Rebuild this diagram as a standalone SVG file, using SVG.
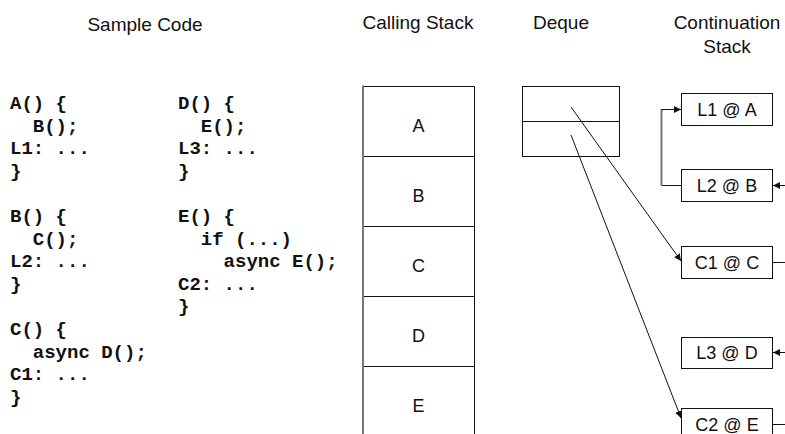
<svg xmlns="http://www.w3.org/2000/svg" width="785" height="434" viewBox="0 0 785 434">
  <defs>
    <style>
      .hdr { font-family: "Liberation Sans", Arial, sans-serif; font-size: 19px; fill: #111; text-anchor: middle; }
      .code { font-family: "Liberation Mono", "Courier New", monospace; font-size: 19px; font-weight: bold; fill: #111; white-space: pre; }
      .lbl { font-family: "Liberation Sans", Arial, sans-serif; font-size: 18px; fill: #111; text-anchor: middle; }
      .box { fill: #fff; stroke: #111; stroke-width: 1; }
      .ln { fill: none; stroke: #111; stroke-width: 1; }
      .gray { fill: none; stroke: #777; stroke-width: 2; }
    </style>
    <marker id="arr" viewBox="0 0 10 10" refX="10" refY="5" markerWidth="7" markerHeight="7" markerUnits="userSpaceOnUse" orient="auto">
      <path d="M0,0 L10,5 L0,10 z" fill="#111"/>
    </marker>
  </defs>

  <!-- column headers -->
  <g id="headers">
    <text class="hdr" x="145" y="31">Sample Code</text>
    <text class="hdr" x="418" y="29">Calling Stack</text>
    <text class="hdr" x="561" y="29">Deque</text>
    <text class="hdr" x="727" y="29">Continuation</text>
    <text class="hdr" x="727" y="53">Stack</text>
  </g>

  <!-- sample code, left column -->
  <g id="code-left" class="code" xml:space="preserve">
    <text xml:space="preserve" x="10" y="109">A() {</text>
    <text xml:space="preserve" x="10" y="131.6">  B();</text>
    <text xml:space="preserve" x="10" y="154.2">L1: ...</text>
    <text xml:space="preserve" x="10" y="176.8">}</text>
    <text xml:space="preserve" x="10" y="222">B() {</text>
    <text xml:space="preserve" x="10" y="244.6">  C();</text>
    <text xml:space="preserve" x="10" y="267.2">L2: ...</text>
    <text xml:space="preserve" x="10" y="289.8">}</text>
    <text xml:space="preserve" x="10" y="335">C() {</text>
    <text xml:space="preserve" x="10" y="357.6">  async D();</text>
    <text xml:space="preserve" x="10" y="380.2">C1: ...</text>
    <text xml:space="preserve" x="10" y="402.8">}</text>
  </g>

  <!-- sample code, right column -->
  <g id="code-right" class="code" xml:space="preserve">
    <text xml:space="preserve" x="178" y="109">D() {</text>
    <text xml:space="preserve" x="178" y="131.6">  E();</text>
    <text xml:space="preserve" x="178" y="154.2">L3: ...</text>
    <text xml:space="preserve" x="178" y="176.8">}</text>
    <text xml:space="preserve" x="178" y="222">E() {</text>
    <text xml:space="preserve" x="178" y="244.6">  if (...)</text>
    <text xml:space="preserve" x="178" y="267.2">    async E();</text>
    <text xml:space="preserve" x="178" y="289.8">C2: ...</text>
    <text xml:space="preserve" x="178" y="312.4">}</text>
  </g>

  <!-- calling stack frames -->
  <g id="calling-stack">
    <path class="ln" d="M363,86.5 H474.5 V434 M363,156.5 H474.5 M363,226.5 H474.5 M363,296.5 H474.5 M363,366.5 H474.5"/>
    <line class="gray" x1="363" y1="85.5" x2="363" y2="434"/>
    <text class="lbl" x="418.5" y="132">A</text>
    <text class="lbl" x="418.5" y="202">B</text>
    <text class="lbl" x="418.5" y="272">C</text>
    <text class="lbl" x="418.5" y="342">D</text>
    <text class="lbl" x="418.5" y="412">E</text>
  </g>

  <!-- deque with two slots -->
  <g id="deque">
    <rect class="box" x="522.5" y="86.5" width="97" height="70"/>
    <line class="ln" x1="522.5" y1="121.5" x2="619.5" y2="121.5"/>
  </g>

  <!-- continuation stack entries -->
  <g id="cont-L1A">
    <rect class="box" x="681.5" y="93.5" width="91" height="32"/>
    <text class="lbl" x="727" y="116">L1 @ A</text>
  </g>
  <g id="cont-L2B">
    <rect class="box" x="681.5" y="169.5" width="91" height="32"/>
    <text class="lbl" x="727" y="192">L2 @ B</text>
  </g>
  <g id="cont-C1C">
    <rect class="box" x="681.5" y="246.5" width="91" height="32"/>
    <text class="lbl" x="727" y="269">C1 @ C</text>
  </g>
  <g id="cont-L3D">
    <rect class="box" x="681.5" y="337.5" width="91" height="31"/>
    <text class="lbl" x="727" y="359">L3 @ D</text>
  </g>
  <g id="cont-C2E">
    <rect class="box" x="681.5" y="408.5" width="91" height="32"/>
    <text class="lbl" x="727" y="431">C2 @ E</text>
  </g>

  <!-- connectors -->
  <g id="connectors">
    <line class="ln" x1="571" y1="107" x2="681" y2="261" marker-end="url(#arr)"/>
    <line class="ln" x1="571" y1="135" x2="681" y2="418" marker-end="url(#arr)"/>
    <path class="ln" d="M681,185.5 H661.5"/>
    <line class="gray" x1="661.5" y1="186" x2="661.5" y2="109"/>
    <path class="ln" d="M661.5,109.5 H681" marker-end="url(#arr)"/>
    <line class="ln" x1="785" y1="185.5" x2="773" y2="185.5" marker-end="url(#arr)"/>
    <line class="ln" x1="773" y1="262.5" x2="785" y2="262.5"/>
    <line class="ln" x1="785" y1="352.5" x2="773" y2="352.5" marker-end="url(#arr)"/>
    <line class="ln" x1="773" y1="424.5" x2="785" y2="424.5"/>
  </g>
</svg>
